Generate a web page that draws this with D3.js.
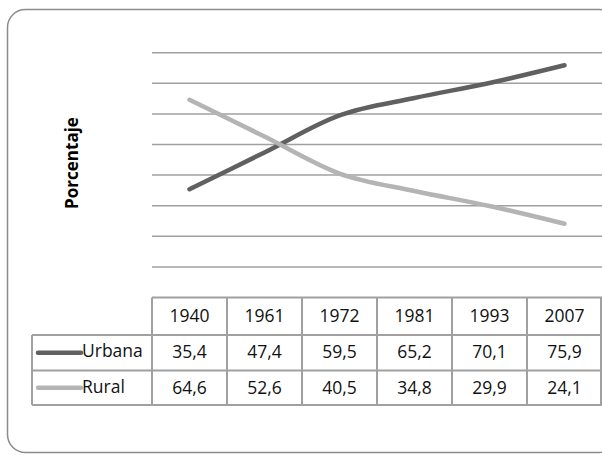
<!DOCTYPE html>
<html lang="es">
<head>
<meta charset="utf-8">
<title>Porcentaje</title>
<style>
  body { margin: 0; background: #fff; }
  svg { display: block; font-family: "Open Sans", sans-serif; }
  .grid line { stroke: #a0a0a0; stroke-width: 1.5px; }
  .tabla line { stroke: #a0a0a0; stroke-width: 2px; }
  .celda { font-size: 17.5px; fill: #111; text-anchor: middle; }
</style>
</head>
<body>
<div id="chart"></div>
<script src="https://cdn.jsdelivr.net/npm/d3@7"></script>
<script>
var anios = ["1940", "1961", "1972", "1981", "1993", "2007"];
var urbana = [35.4, 47.4, 59.5, 65.2, 70.1, 75.9];
var rural = [64.6, 52.6, 40.5, 34.8, 29.9, 24.1];
var etiquetasUrbana = ["35,4", "47,4", "59,5", "65,2", "70,1", "75,9"];
var etiquetasRural = ["64,6", "52,6", "40,5", "34,8", "29,9", "24,1"];
var gridTicks = [10, 20, 30, 40, 50, 60, 70, 80];

var series = [
  { nombre: "Urbana", valores: urbana, etiquetas: etiquetasUrbana, color: "#606060" },
  { nombre: "Rural", valores: rural, etiquetas: etiquetasRural, color: "#b4b4b4" }
];

var width = 602, height = 455;

var svg = d3.select("#chart").append("svg")
  .attr("width", width)
  .attr("height", height);

// marco con esquinas redondeadas
svg.append("rect")
  .attr("x", 7.5).attr("y", 9.5)
  .attr("width", 610).attr("height", 443)
  .attr("rx", 18).attr("ry", 18)
  .attr("fill", "#fff")
  .attr("stroke", "#8c8c8c")
  .attr("stroke-width", 1.5);

var x = d3.scaleBand().domain(anios).range([152, 602]);
var y = d3.scaleLinear().domain([0, 80]).range([297.5, 52.7]);

svg.append("g").attr("class", "grid")
  .selectAll("line")
  .data(gridTicks)
  .enter().append("line")
  .attr("x1", 152).attr("x2", 602)
  .attr("y1", function (d) { return y(d); })
  .attr("y2", function (d) { return y(d); });

// titulo del eje
svg.append("text")
  .attr("transform", "translate(78,163) rotate(-90)")
  .attr("text-anchor", "middle")
  .attr("font-weight", "bold")
  .attr("font-size", "17px")
  .attr("fill", "#000")
  .text("Porcentaje");

var linea = d3.line()
  .x(function (d, i) { return x(anios[i]) + x.bandwidth() / 2; })
  .y(function (d) { return y(d); })
  .curve(d3.curveCatmullRom.alpha(0));

svg.append("g").selectAll("path")
  .data(series)
  .enter().append("path")
  .attr("d", function (s) { return linea(s.valores); })
  .attr("fill", "none")
  .attr("stroke", function (s) { return s.color; })
  .attr("stroke-width", 4.5)
  .attr("stroke-linecap", "round")
  .attr("stroke-linejoin", "round");

// tabla de datos
var filaY = [297.5, 335, 370.5, 405];
var tabla = svg.append("g").attr("class", "tabla");
var leftX = 32;

// lineas horizontales
tabla.append("line").attr("x1", 152).attr("x2", 602).attr("y1", filaY[0]).attr("y2", filaY[0]);
[1, 2, 3].forEach(function (i) {
  tabla.append("line").attr("x1", leftX).attr("x2", 602).attr("y1", filaY[i]).attr("y2", filaY[i]);
});
// lineas verticales
tabla.append("line").attr("x1", leftX).attr("x2", leftX).attr("y1", filaY[1]).attr("y2", filaY[3]);
anios.forEach(function (a) {
  tabla.append("line").attr("x1", x(a)).attr("x2", x(a)).attr("y1", filaY[0]).attr("y2", filaY[3]);
});
tabla.append("line").attr("x1", 601).attr("x2", 601).attr("y1", filaY[0]).attr("y2", filaY[3]);

svg.append("g").selectAll("text")
  .data(anios)
  .enter().append("text")
  .attr("class", "celda")
  .attr("x", function (a) { return x(a) + x.bandwidth() / 2; })
  .attr("y", 322)
  .text(function (a) { return a; });

var baseFila = [358, 394];
series.forEach(function (s, k) {
  var g = svg.append("g");
  g.selectAll("text")
    .data(s.etiquetas)
    .enter().append("text")
    .attr("class", "celda")
    .attr("x", function (d, i) { return x(anios[i]) + x.bandwidth() / 2; })
    .attr("y", baseFila[k])
    .text(function (d) { return d; });
  var cy = (filaY[k + 1] + filaY[k + 2]) / 2;
  g.append("line")
    .attr("x1", 38).attr("x2", 81)
    .attr("y1", cy).attr("y2", cy)
    .attr("stroke", s.color)
    .attr("stroke-width", 4.5)
    .attr("stroke-linecap", "round");
  g.append("text")
    .attr("x", 82)
    .attr("y", baseFila[k] - 1)
    .attr("font-size", "17.5px")
    .attr("fill", "#111")
    .text(s.nombre);
});
</script>
</body>
</html>
